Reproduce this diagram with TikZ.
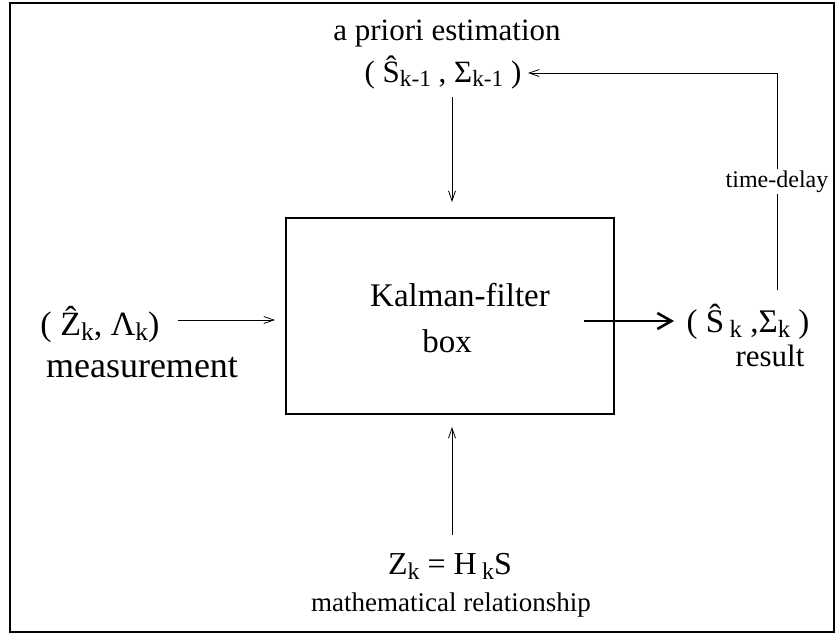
\documentclass[tikz,border=0pt]{standalone}
\usepackage{fontspec}
\setmainfont{Liberation Serif}
\usetikzlibrary{arrows.meta}
\newcommand\lsub[1]{\raisebox{-0.35ex}{\scalebox{0.75}{#1}}}
\newcommand\fsz[1]{\fontsize{#1}{#1}\selectfont}
\begin{document}
\begin{tikzpicture}[x=1pt,y=-1pt,
  lbl/.style={inner sep=0pt, anchor=base},
  conn/.style={line width=0.8pt, -{Straight Barb[length=10pt,width=7pt]}},
  bold/.style={line width=2.6pt, -{Straight Barb[length=14pt,width=16pt,line width=2.6pt]}},
  frame/.style={line width=1.2pt},
  kbox/.style={draw, line width=1.6pt, minimum width=328pt, minimum height=196pt, inner sep=0pt}]
\useasboundingbox (0,0) rectangle (836,633);
\draw[frame] (10,3) rectangle (834,632);

% box
\node[kbox] (box) at (450,316) {};
\node[lbl, font=\fsz{33}] (kf1) at (460,306) {Kalman-filter};
\node[lbl, font=\fsz{33}] (kf2) at (447,352) {box};

% top
\node[lbl, font=\fsz{31}] (apriori) at (447,40) {a priori estimation};
\node[lbl, font=\fsz{31}] (apest) at (443,82) {( Ŝ\lsub{k-1} , Σ\lsub{k-1} )};

% left
\node[lbl, font=\fsz{34}] (zin) at (100,335) {( Ẑ\lsub{k}, Λ\lsub{k})};
\node[lbl, font=\fsz{36}] (meas) at (142,377) {measurement};

% right
\node[lbl, font=\fsz{33}] (res) at (748,332) {( Ŝ\,\lsub{k} ,Σ\lsub{k} )};
\node[lbl, font=\fsz{31}] (resl) at (770,366) {result};

% bottom
\node[lbl, font=\fsz{32}] (rel) at (450,574) {Z\lsub{k} = H\,\lsub{k}S};
\node[lbl, font=\fsz{27}] (relt) at (451,611) {mathematical relationship};

% connectors
\coordinate (d1) at (452,97);
\coordinate (d2) at (452,202);
\draw[conn] (d1) -- (d2);

\coordinate (u1) at (452,535);
\coordinate (u2) at (452,427);
\draw[conn] (u1) -- (u2);

\coordinate (l1) at (178,320);
\coordinate (l2) at (275,320);
\draw[conn] (l1) -- (l2);

\coordinate (b1) at (584,321);
\coordinate (b2) at (674,321);
\draw[bold] (b1) -- (b2);

\coordinate (r1) at (777,290);
\coordinate (r2) at (777,73);
\coordinate (r3) at (528,73);
\draw[conn] (r1) -- node[fill=white, inner sep=2pt, font=\fsz{24}] (td) {time-delay} (r2) -- (r3);
\end{tikzpicture}
\end{document}
